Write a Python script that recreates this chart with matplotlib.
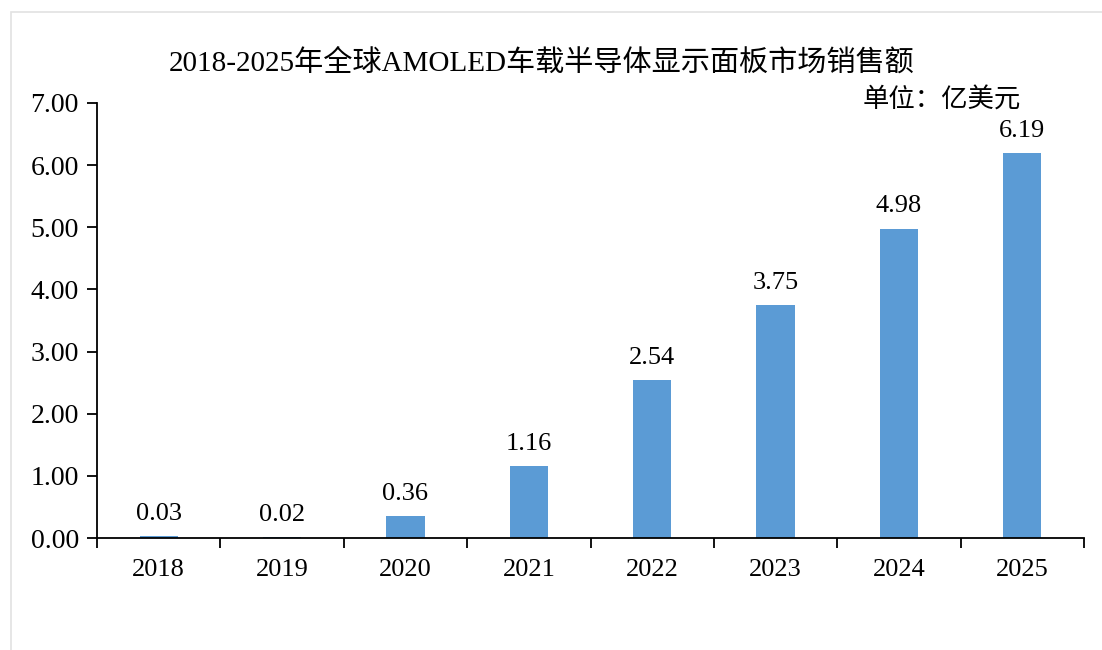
import matplotlib
matplotlib.use("Agg")
import matplotlib.pyplot as plt
from matplotlib.patches import Rectangle

years = ["2018", "2019", "2020", "2021", "2022", "2023", "2024", "2025"]
sales = [0.03, 0.02, 0.36, 1.16, 2.54, 3.75, 4.98, 6.19]
y_ticks = [0, 1, 2, 3, 4, 5, 6, 7]

FONT = ["Liberation Serif", "Noto Sans CJK SC"]
plt.rcParams["font.family"] = FONT
BAR = "#5b9bd5"

fig = plt.figure(figsize=(11.02, 6.5), dpi=100)
# light frame around the chart area
fig.patches.append(Rectangle((11 / 1102, -0.01), 1.0, 1 - 12 / 650 + 0.01, transform=fig.transFigure,
                             fill=False, edgecolor="#e2e2e2", linewidth=1.2))

ax = fig.add_axes([97 / 1102, 1 - 538 / 650, (1084 - 97) / 1102, (538 - 103) / 650])
x = range(len(years))
bars = ax.bar(x, sales, width=0.31, color=BAR, zorder=2)
for xi, v in zip(x, sales):
    ax.annotate(f"{v:.2f}", (xi, v), xytext=(0, 8), textcoords="offset points",
                ha="center", va="bottom", fontsize=19)

ax.set_xlim(-0.5, len(years) - 0.5)
ax.set_ylim(0, 7)
ax.set_yticks(y_ticks)
ax.set_yticklabels([f"{t:.2f}" for t in y_ticks], fontsize=20)
ax.set_xticks(x)
ax.set_xticklabels(years, fontsize=19)
ax.tick_params(axis="x", length=0, pad=15)
ax.set_xticks([i - 0.5 for i in range(len(years) + 1)], minor=True)
ax.tick_params(axis="x", which="minor", length=7, width=1.3, direction="out")
ax.tick_params(axis="y", length=7, width=1.3, direction="out", pad=6)
for s in ["top", "right"]:
    ax.spines[s].set_visible(False)
for s in ["left", "bottom"]:
    ax.spines[s].set_linewidth(1.3)

fig.text(542 / 1102, 1 - 63 / 650, "2018-2025年全球AMOLED车载半导体显示面板市场销售额",
         ha="center", va="center", fontsize=21)
fig.text(1021 / 1102, 1 - 100 / 650, "单位：亿美元", ha="right", va="center", fontsize=19)

fig.savefig("out.png", dpi=100)
